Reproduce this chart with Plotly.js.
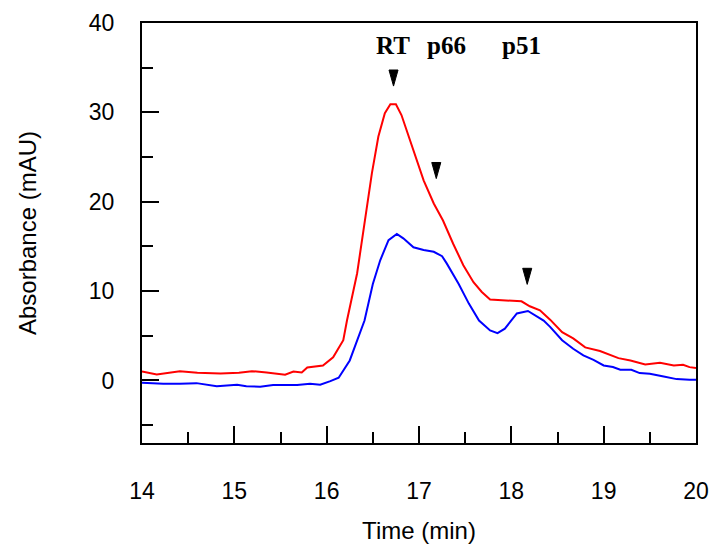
<!DOCTYPE html>
<html>
<head>
<meta charset="utf-8">
<script src="https://cdn.plot.ly/plotly-3.0.1.min.js"></script>
<style>html,body{margin:0;padding:0;background:#fff;}#chart{width:716px;height:549px;}</style>
</head>
<body>
<div id="chart"></div>
<script>
// Red trace (time in min, absorbance in mAU)
var redTime = [14.00,14.16,14.41,14.60,14.85,15.05,15.19,15.35,15.55,15.64,15.73,15.79,15.96,16.07,16.18,16.22,16.33,16.40,16.49,16.56,16.63,16.69,16.75,16.81,16.90,16.97,17.05,17.16,17.26,17.37,17.48,17.59,17.68,17.77,17.91,18.11,18.20,18.31,18.42,18.55,18.67,18.80,18.96,19.10,19.16,19.29,19.45,19.61,19.76,19.86,19.93,20.00];
var redAbs  = [1.0,0.67,1.04,0.85,0.78,0.85,1.04,0.9,0.64,1.0,0.9,1.46,1.68,2.6,4.5,6.7,12.0,16.8,23.2,27.3,29.9,30.9,30.9,29.7,26.9,24.7,22.4,19.8,17.9,15.3,12.9,11.0,9.9,9.05,8.97,8.86,8.3,7.85,6.8,5.4,4.7,3.7,3.3,2.8,2.5,2.24,1.79,1.97,1.68,1.76,1.49,1.38];
// Blue trace
var blueTime = [14.00,14.23,14.41,14.59,14.81,15.03,15.13,15.28,15.42,15.68,15.82,15.93,16.04,16.13,16.25,16.41,16.50,16.58,16.67,16.76,16.83,16.94,17.05,17.16,17.25,17.30,17.43,17.54,17.65,17.77,17.85,17.93,18.06,18.18,18.35,18.42,18.55,18.67,18.78,18.89,19.00,19.10,19.18,19.30,19.39,19.50,19.65,19.79,19.93,20.00];
var blueAbs  = [-0.26,-0.37,-0.37,-0.3,-0.64,-0.48,-0.64,-0.71,-0.52,-0.52,-0.37,-0.48,-0.07,0.3,2.24,6.7,10.8,13.45,15.7,16.4,15.9,14.9,14.6,14.4,13.9,13.1,10.8,8.6,6.7,5.6,5.3,5.8,7.5,7.77,6.7,6.0,4.5,3.55,2.8,2.3,1.68,1.5,1.2,1.2,0.82,0.75,0.45,0.15,0.08,0.08];
// Arrowhead markers (centre positions)
var markTime = [16.724,17.187,18.172];
var markAbs  = [33.84,23.49,11.65];
// Peak labels
var labelText = ['RT','p66','p51'];
var labelTime = [16.72,17.30,18.11];
var labelAbs  = [37.5,37.5,37.5];

// build narrow downward triangles around each marker centre
var triHalfW = 0.049, triHalfH = 0.9;
var triX = [], triY = [];
markTime.forEach(function(t, i){
  var a = markAbs[i];
  triX.push(t - triHalfW, t + triHalfW, t, t - triHalfW, null);
  triY.push(a + triHalfH, a + triHalfH, a - triHalfH, a + triHalfH, null);
});

var traces = [
  {x: redTime, y: redAbs, mode: 'lines', line: {color: '#ff0000', width: 2}, hoverinfo: 'skip'},
  {x: blueTime, y: blueAbs, mode: 'lines', line: {color: '#0000ff', width: 2}, hoverinfo: 'skip'},
  {x: triX, y: triY, mode: 'lines', fill: 'toself', fillcolor: '#000', line: {color: '#000', width: 1}, hoverinfo: 'skip'}
];

var annotations = labelText.map(function(t, i){
  return {x: labelTime[i], y: labelAbs[i], xref: 'x', yref: 'y', text: '<b>' + t + '</b>', showarrow: false,
    font: {family: 'Liberation Serif, Times New Roman, serif', size: 25, color: '#000'}};
});

var tickFont = {family: 'Liberation Sans, Arial, sans-serif', size: 23, color: '#000'};
var titleFont = {family: 'Liberation Sans, Arial, sans-serif', size: 24, color: '#000'};

var layout = {
  width: 716, height: 549,
  margin: {l: 142, r: 20, t: 23, b: 106},
  paper_bgcolor: '#fff', plot_bgcolor: '#fff',
  showlegend: false,
  annotations: annotations,
  xaxis: {
    range: [14, 20], dtick: 1, tick0: 14,
    showgrid: false, zeroline: false,
    showline: true, linecolor: '#000', linewidth: 2, mirror: true,
    ticks: 'inside', ticklen: 17, tickwidth: 2, tickcolor: '#000',
    minor: {ticks: 'inside', dtick: 0.5, ticklen: 11, tickwidth: 2, tickcolor: '#000', showgrid: false},
    tickfont: tickFont, ticklabelstandoff: 26,
    title: {text: 'Time (min)', font: titleFont, standoff: 20}
  },
  yaxis: {
    range: [-7, 40], dtick: 10, tick0: 0,
    showgrid: false, zeroline: false,
    showline: true, linecolor: '#000', linewidth: 2, mirror: true,
    ticks: 'inside', ticklen: 17, tickwidth: 2, tickcolor: '#000',
    minor: {ticks: 'inside', dtick: 5, ticklen: 11, tickwidth: 2, tickcolor: '#000', showgrid: false},
    tickfont: tickFont, ticklabelstandoff: 21,
    title: {text: 'Absorbance (mAU)', font: titleFont, standoff: 45}
  }
};

Plotly.newPlot('chart', traces, layout, {displayModeBar: false, staticPlot: true});
</script>
</body>
</html>
